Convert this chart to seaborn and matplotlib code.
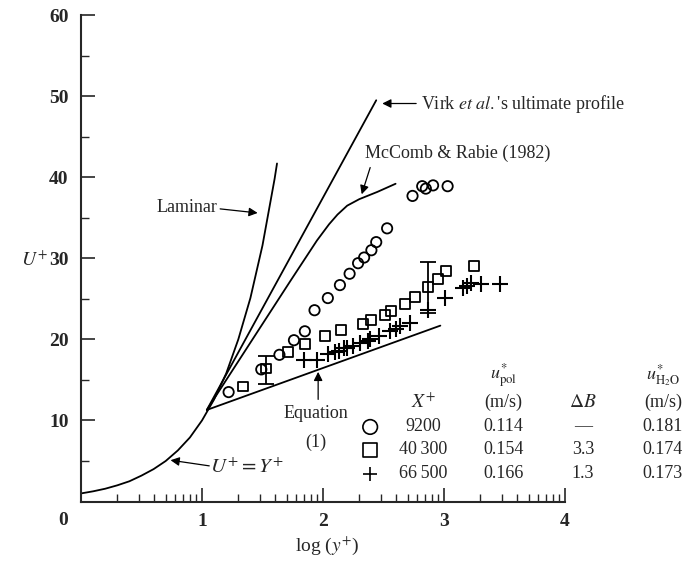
import numpy as np
import matplotlib
matplotlib.use("Agg")
import matplotlib.pyplot as plt
import seaborn as sns

sns.set_style("ticks")
plt.rcParams["font.family"] = ["Liberation Serif", "DejaVu Serif"]
plt.rcParams["mathtext.fontset"] = "stix"

# --- theory curves ---
lam_x = [0.0, 0.1, 0.2, 0.3, 0.4, 0.5, 0.6, 0.7, 0.8, 0.9, 1.0, 1.1, 1.2, 1.3, 1.4, 1.5, 1.6, 1.62]
lam_u = [1.0, 1.26, 1.58, 2.0, 2.5, 3.2, 4.0, 5.0, 6.3, 7.9, 10.0, 12.6, 15.8, 20.0, 25.1, 31.6, 39.8, 41.7]

virk_x = [1.04, 2.44]
virk_u = [11.3, 49.5]

mccomb_x = [1.04, 1.40, 1.73, 1.95, 2.05, 2.12, 2.20, 2.30, 2.45, 2.60]
mccomb_u = [11.3, 19.6, 27.2, 32.2, 34.2, 35.4, 36.5, 37.3, 38.2, 39.2]

eq1_x = [1.04, 2.97]
eq1_u = [11.3, 21.7]

# --- measurements ---
circ_x = [1.22, 1.49, 1.64, 1.76, 1.85, 1.93, 2.04, 2.14, 2.22, 2.29, 2.34, 2.40,
          2.44, 2.53, 2.74, 2.82, 2.85, 2.91, 3.03]
circ_u = [13.5, 16.3, 18.1, 19.9, 21.0, 23.6, 25.1, 26.7, 28.1, 29.4, 30.1, 31.0,
          32.0, 33.7, 37.7, 38.9, 38.6, 39.0, 38.9]

sq_x = [1.34, 1.53, 1.71, 1.85, 2.02, 2.15, 2.33, 2.40, 2.51, 2.56, 2.68, 2.76,
        2.87, 2.95, 3.02, 3.25]
sq_u = [14.2, 16.4, 18.4, 19.4, 20.4, 21.2, 21.9, 22.4, 23.0, 23.5, 24.4, 25.2,
        26.5, 27.5, 28.4, 29.1]

plus_x = [1.84, 1.95, 2.04, 2.10, 2.13, 2.17, 2.20, 2.25, 2.31, 2.37, 2.39, 2.46,
          2.55, 2.60, 2.64, 2.72, 2.87, 3.01, 3.16, 3.19, 3.22, 3.31, 3.46]
plus_u = [17.5, 17.5, 18.2, 18.4, 18.6, 18.9, 19.0, 19.2, 19.5, 19.8, 20.1, 20.4,
          21.0, 21.3, 21.6, 22.0, 23.6, 25.1, 26.3, 26.6, 26.9, 26.8, 26.8]

# error bars: x, low, high
err_x = [1.53, 2.87]
err_lo = [14.5, 23.3]
err_hi = [17.9, 29.6]

# table
tab_X = ["9200", "40\u2009300", "66\u2009500"]
tab_upol = ["0.114", "0.154", "0.166"]
tab_dB = ["\u2014", "3.3", "1.3"]
tab_uh2o = ["0.181", "0.174", "0.173"]

fig = plt.figure(figsize=(6.9, 5.61), dpi=100)
ax = fig.add_axes([0.1174, 0.106, 0.7014, 0.867])

lw = 1.3
for xs, us in [(lam_x, lam_u), (virk_x, virk_u), (mccomb_x, mccomb_u), (eq1_x, eq1_u)]:
    sns.lineplot(x=xs, y=us, ax=ax, color="black", lw=lw, sort=False, estimator=None)

sns.scatterplot(x=circ_x, y=circ_u, ax=ax, marker="o", s=55, facecolor="none",
                edgecolor="black", linewidth=1.3, zorder=3)
sns.scatterplot(x=sq_x, y=sq_u, ax=ax, marker="s", s=50, facecolor="none",
                edgecolor="black", linewidth=1.3, zorder=3)
sns.scatterplot(x=plus_x, y=plus_u, ax=ax, marker="+", s=130, color="black",
                linewidth=1.5, zorder=3)

for ex, lo, hi in zip(err_x, err_lo, err_hi):
    mid = (lo + hi) / 2
    ax.errorbar([ex], [mid], yerr=[[mid - lo], [hi - mid]], fmt="none",
                ecolor="black", elinewidth=1.3, capsize=6, capthick=1.3)

ax.set_xlim(0, 4)
ax.set_ylim(0, 60)
sns.despine(ax=ax)
for s in ["left", "bottom"]:
    ax.spines[s].set_linewidth(1.5)

# ticks
ax.set_yticks(range(0, 61, 10))
ax.set_yticklabels([""] + [str(v) for v in range(10, 61, 10)])
ax.set_yticks(range(5, 60, 10), minor=True)
ax.set_xticks([0, 1, 2, 3, 4])
ax.set_xticklabels(["", "1", "2", "3", "4"])
ax.set_xticks([d + np.log10(k) for d in range(4) for k in range(2, 10)], minor=True)
ax.tick_params(axis="both", which="major", direction="in", length=10, width=1.2,
               labelsize=14)
ax.tick_params(axis="both", which="minor", direction="in", length=5.5, width=1.0)
ax.tick_params(axis="y", which="major", pad=9)
ax.tick_params(axis="x", which="major", pad=8)
for t in ax.get_xticklabels() + ax.get_yticklabels():
    t.set_fontweight("bold")

ax.text(-0.15, -2.4, "0", ha="center", va="center", fontsize=14, fontweight="bold")
ax.text(-0.385, 29.8, r"$U^{+}$", ha="center", va="center", fontsize=14)
ax.text(2.03, -5.5, r"log ($y^{+}$)", ha="center", va="center", fontsize=14)

# annotations
fs = 13
arw = dict(arrowstyle="-|>", color="black", lw=0.9, mutation_scale=13,
           shrinkA=0, shrinkB=0)
ax.text(1.13, 36.3, "Laminar", ha="right", va="center", fontsize=fs)
ax.annotate("", xy=(1.46, 35.6), xytext=(1.15, 36.1), arrowprops=arw)

ax.text(2.81, 49.1, r"Virk $\mathit{et\ al.}$'s ultimate profile", ha="left",
        va="center", fontsize=fs)
ax.annotate("", xy=(2.49, 49.1), xytext=(2.77, 49.1), arrowprops=arw)

ax.text(2.35, 42.9, "McComb & Rabie (1982)", ha="left", va="center", fontsize=fs)
ax.annotate("", xy=(2.32, 37.9), xytext=(2.39, 41.2), arrowprops=arw)

ax.text(1.94, 10.9, "Equation", ha="center", va="center", fontsize=fs)
ax.text(1.94, 7.3, "(1)", ha="center", va="center", fontsize=fs)
ax.annotate("", xy=(1.96, 16.0), xytext=(1.96, 12.6), arrowprops=arw)

ax.text(1.07, 4.1, r"$U^{+} = Y^{+}$", ha="left", va="center", fontsize=15)
ax.annotate("", xy=(0.74, 5.1), xytext=(1.06, 4.4), arrowprops=arw)

# table
col_x = [2.83, 3.49, 4.15, 4.81]
row_u = [9.2, 6.4, 3.4]
hdr_u1, hdr_u2 = 15.5, 12.2
ax.text(col_x[0], hdr_u2, r"$X^{+}$", ha="center", va="center", fontsize=14)
ax.text(col_x[1], hdr_u1, r"$u^{*}_{\mathrm{pol}}$", ha="center", va="center", fontsize=13)
ax.text(col_x[1], hdr_u2, "(m/s)", ha="center", va="center", fontsize=fs)
ax.text(col_x[2], hdr_u2, r"$\Delta B$", ha="center", va="center", fontsize=14)
ax.text(col_x[3], hdr_u1, r"$u^{*}_{\mathrm{H_2O}}$", ha="center", va="center", fontsize=13)
ax.text(col_x[3], hdr_u2, "(m/s)", ha="center", va="center", fontsize=fs)
for i in range(3):
    for cx, col in zip(col_x, [tab_X, tab_upol, tab_dB, tab_uh2o]):
        ax.text(cx, row_u[i], col[i], ha="center", va="center", fontsize=fs)

sym_x = [2.39, 2.39, 2.39]
ax.scatter(sym_x[:1], row_u[:1], marker="o", s=110, facecolor="none",
           edgecolor="black", linewidth=1.2, clip_on=False)
ax.scatter(sym_x[1:2], row_u[1:2], marker="s", s=100, facecolor="none",
           edgecolor="black", linewidth=1.2, clip_on=False)
ax.scatter(sym_x[2:], row_u[2:], marker="+", s=110, color="black",
           linewidth=1.2, clip_on=False)

plt.savefig("out.png", dpi=100)
